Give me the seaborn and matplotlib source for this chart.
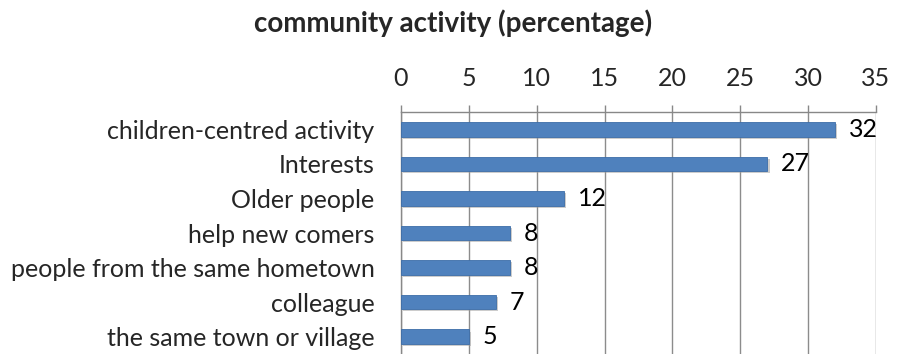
import matplotlib
matplotlib.use("Agg")
import matplotlib.pyplot as plt
import matplotlib.patheffects as pe
from matplotlib.ticker import FixedLocator
import seaborn as sns
import pandas as pd

categories = [
    "children-centred activity",
    "Interests",
    "Older people",
    "help new comers",
    "people from the same hometown",
    "colleague",
    "the same town or village",
]
percentages = [32, 27, 12, 8, 8, 7, 5]
x_ticks = [0, 5, 10, 15, 20, 25, 30, 35]

sns.set_style("white")
plt.rcParams["font.family"] = ["Lato", "DejaVu Sans"]

df = pd.DataFrame({"activity": categories, "pct": percentages})

fig = plt.figure(figsize=(8.97, 3.54), dpi=100)
ax = fig.add_axes([0.447, 0.0, 0.5296, 0.6836])

sns.barplot(data=df, x="pct", y="activity", orient="h", color="#4F81BD",
            width=0.42, saturation=1, ax=ax, zorder=3)

for bar in ax.patches:
    bar.set_edgecolor("#3C6DA8")
    bar.set_linewidth(0.6)
    bar.set_path_effects([pe.SimplePatchShadow(offset=(1.5, -1.5), shadow_rgbFace="#9a9a9a", alpha=0.5),
                          pe.Normal()])

ax.bar_label(ax.containers[0], labels=[str(v) for v in percentages],
             padding=10, fontsize=18, color="black")

ax.set_xlim(0, 35)
ax.set_ylim(len(categories) - 0.5, -0.5)
ax.xaxis.tick_top()
ax.set_xticks(x_ticks)
ax.set_xticklabels([str(t) for t in x_ticks], fontsize=18)
ax.tick_params(axis="x", which="major", length=5, width=1, color="#888888", pad=11)
ax.tick_params(axis="y", which="major", length=0, labelsize=18, pad=19)
ax.yaxis.set_minor_locator(FixedLocator([i - 0.5 for i in range(len(categories) + 1)]))
ax.tick_params(axis="y", which="minor", length=7, width=1, color="#888888")

ax.grid(axis="x", color="#8c8c8c", linewidth=1, zorder=0)
ax.set_axisbelow(True)
for side in ["right", "bottom"]:
    ax.spines[side].set_visible(False)
for side in ["top", "left"]:
    ax.spines[side].set_color("#888888")
    ax.spines[side].set_linewidth(1)

ax.set_xlabel("")
ax.set_ylabel("")

fig.text(0.505, 0.935, "community activity (percentage)", ha="center", va="center",
         fontsize=20, fontweight="bold")

fig.savefig("out.png", dpi=100, facecolor="white")
